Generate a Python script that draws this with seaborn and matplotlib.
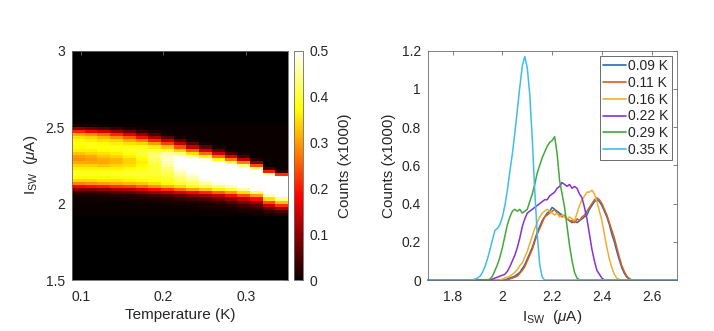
import numpy as np
import pandas as pd
import matplotlib
matplotlib.use("Agg")
import matplotlib.pyplot as plt
import seaborn as sns
from matplotlib.lines import Line2D

# ---------------- data ----------------
# Left panel: switching-current histogram map (counts x1000)
temperature_K = [0.097, 0.112, 0.128, 0.143, 0.159, 0.174, 0.189, 0.205, 0.220,
                 0.235, 0.251, 0.266, 0.282, 0.297, 0.312, 0.328, 0.343]
heat_isw_lo = 1.92      # lower edge of first current bin (uA)
heat_isw_step = 0.02    # bin width (uA)
# one list per temperature column, bins 1.93 ... 2.51 uA (centres)
heat_counts = [
    [0,0,0,0,0,0.005,0.01,0.03,0.09,0.18,0.28,0.34,0.37,0.39,0.38,0.36,0.34,0.31,0.29,0.30,0.33,0.36,0.37,0.38,0.37,0.35,0.31,0.21,0.09,0.01],
    [0,0,0,0,0,0.005,0.01,0.03,0.09,0.19,0.29,0.34,0.37,0.39,0.38,0.36,0.34,0.31,0.30,0.31,0.34,0.36,0.38,0.38,0.36,0.34,0.29,0.18,0.07,0.01],
    [0,0,0,0,0,0.005,0.015,0.04,0.10,0.20,0.30,0.35,0.37,0.39,0.38,0.36,0.33,0.31,0.31,0.33,0.35,0.37,0.38,0.37,0.35,0.32,0.26,0.15,0.05,0],
    [0,0,0,0,0,0.005,0.02,0.05,0.12,0.22,0.31,0.35,0.38,0.39,0.38,0.36,0.34,0.32,0.32,0.34,0.36,0.38,0.38,0.36,0.34,0.29,0.21,0.11,0.03,0],
    [0,0,0,0,0,0.01,0.02,0.06,0.13,0.23,0.32,0.36,0.38,0.40,0.39,0.37,0.35,0.34,0.34,0.36,0.38,0.39,0.38,0.35,0.31,0.25,0.16,0.07,0.01,0],
    [0,0,0,0,0.005,0.01,0.03,0.08,0.16,0.26,0.33,0.37,0.39,0.40,0.39,0.38,0.37,0.36,0.37,0.39,0.40,0.40,0.38,0.34,0.28,0.19,0.10,0.03,0,0],
    [0,0,0,0,0.005,0.015,0.04,0.10,0.19,0.29,0.35,0.38,0.39,0.40,0.40,0.40,0.40,0.41,0.42,0.43,0.42,0.40,0.36,0.30,0.21,0.12,0.05,0.01,0,0],
    [0,0,0,0,0.01,0.02,0.05,0.12,0.22,0.32,0.37,0.39,0.40,0.41,0.42,0.43,0.45,0.46,0.47,0.47,0.45,0.40,0.33,0.23,0.14,0.06,0.01,0,0,0],
    [0,0,0,0.005,0.01,0.03,0.07,0.15,0.26,0.35,0.40,0.42,0.43,0.45,0.47,0.49,0.51,0.52,0.51,0.49,0.43,0.34,0.24,0.14,0.06,0.01,0,0,0,0],
    [0,0,0,0.005,0.015,0.04,0.09,0.18,0.30,0.38,0.42,0.44,0.46,0.48,0.51,0.54,0.56,0.56,0.52,0.45,0.35,0.25,0.14,0.06,0.01,0,0,0,0,0],
    [0,0,0.005,0.01,0.02,0.05,0.11,0.21,0.33,0.41,0.45,0.48,0.51,0.55,0.59,0.61,0.61,0.56,0.48,0.37,0.26,0.15,0.06,0.01,0,0,0,0,0,0],
    [0,0,0.005,0.015,0.03,0.07,0.14,0.25,0.36,0.44,0.48,0.52,0.57,0.62,0.66,0.66,0.60,0.50,0.38,0.26,0.15,0.06,0.01,0,0,0,0,0,0,0],
    [0,0.005,0.01,0.02,0.05,0.10,0.19,0.30,0.40,0.47,0.52,0.58,0.64,0.70,0.72,0.66,0.55,0.41,0.27,0.15,0.05,0.01,0,0,0,0,0,0,0,0],
    [0,0.01,0.02,0.04,0.08,0.14,0.24,0.35,0.45,0.52,0.59,0.66,0.73,0.78,0.74,0.60,0.44,0.28,0.14,0.04,0.01,0,0,0,0,0,0,0,0,0],
    [0.005,0.01,0.03,0.06,0.11,0.19,0.30,0.42,0.53,0.62,0.71,0.79,0.84,0.78,0.62,0.42,0.24,0.09,0.02,0,0,0,0,0,0,0,0,0,0,0],
    [0.01,0.03,0.07,0.14,0.24,0.35,0.47,0.62,0.78,0.90,0.94,0.88,0.70,0.46,0.20,0.04,0,0,0,0,0,0,0,0,0,0,0,0,0,0],
    [0.02,0.05,0.12,0.22,0.33,0.44,0.56,0.75,0.95,1.05,1.02,0.84,0.58,0.22,0.03,0,0,0,0,0,0,0,0,0,0,0,0,0,0,0],
]

# Right panel: histograms, sampled every 0.01 uA from 1.88 to 2.54 uA
curve_isw_start = 1.88
curve_isw_step = 0.01
curve_labels = ["0.09 K", "0.11 K", "0.16 K", "0.22 K", "0.29 K", "0.35 K"]
counts_009 = [0,0,0,0,0,0,0,0,0,0,
              0,0,0,0,0.005,0.01,0.015,0.02,0.03,0.04,
              0.06,0.08,0.11,0.14,0.17,0.21,0.25,0.28,0.31,0.33,
              0.35,0.36,0.38,0.37,0.36,0.35,0.34,0.33,0.32,0.31,
              0.30,0.31,0.30,0.31,0.32,0.33,0.34,0.37,0.39,0.41,
              0.42,0.41,0.39,0.36,0.33,0.29,0.24,0.20,0.15,0.105,
              0.065,0.035,0.015,0.005,0,0,0]
counts_011 = [0,0,0,0,0,0,0,0,0,0,
              0,0,0,0,0,0.005,0.01,0.015,0.02,0.035,
              0.05,0.07,0.10,0.13,0.16,0.20,0.24,0.27,0.30,0.33,
              0.34,0.35,0.36,0.37,0.35,0.34,0.33,0.34,0.32,0.31,
              0.31,0.30,0.32,0.31,0.33,0.34,0.36,0.38,0.40,0.42,
              0.43,0.42,0.40,0.37,0.34,0.30,0.26,0.22,0.17,0.12,
              0.075,0.045,0.02,0.008,0,0,0]
counts_016 = [0,0,0,0,0,0,0,0,0,0,
              0,0,0.005,0.01,0.015,0.02,0.03,0.04,0.055,0.075,
              0.09,0.12,0.15,0.19,0.23,0.27,0.30,0.33,0.35,0.36,
              0.37,0.36,0.35,0.34,0.35,0.33,0.34,0.33,0.32,0.33,
              0.32,0.31,0.35,0.39,0.42,0.44,0.46,0.46,0.47,0.45,
              0.41,0.36,0.31,0.24,0.17,0.11,0.065,0.03,0.01,0.003,
              0,0,0,0,0,0,0]
counts_022 = [0,0,0,0,0,0,0,0,0.005,0.01,
              0.015,0.02,0.025,0.03,0.045,0.07,0.10,0.13,0.17,0.22,
              0.28,0.32,0.35,0.36,0.37,0.38,0.39,0.40,0.41,0.42,
              0.42,0.44,0.45,0.46,0.48,0.49,0.51,0.50,0.49,0.50,
              0.48,0.49,0.48,0.45,0.43,0.38,0.32,0.24,0.16,0.10,
              0.05,0.03,0.01,0,0,0,0,0,0,0,
              0,0,0,0,0,0,0]
counts_029 = [0,0,0,0,0,0,0,0.005,0.02,0.05,
              0.08,0.12,0.17,0.23,0.29,0.33,0.36,0.37,0.36,0.37,
              0.35,0.36,0.37,0.41,0.45,0.50,0.56,0.60,0.64,0.67,
              0.70,0.72,0.73,0.75,0.66,0.52,0.45,0.38,0.28,0.18,
              0.10,0.04,0.01,0,0,0,0,0,0,0,
              0,0,0,0,0,0,0,0,0,0,
              0,0,0,0,0,0,0]
counts_035 = [0,0.005,0.01,0.02,0.04,0.07,0.11,0.16,0.21,0.26,
              0.27,0.29,0.33,0.39,0.47,0.57,0.66,0.77,0.89,1.01,
              1.12,1.17,1.11,0.97,0.74,0.47,0.24,0.08,0.015,0,
              0,0,0,0,0,0,0,0,0,0,
              0,0,0,0,0,0,0,0,0,0,
              0,0,0,0,0,0,0,0,0,0,
              0,0,0,0,0,0,0]
curve_counts = [counts_009, counts_011, counts_016, counts_022, counts_029, counts_035]
curve_colors = ["#1f6fb4", "#dc5a1c", "#eeb02c", "#8a2fd6", "#43a83a", "#3fbdec"]

# ---------------- style ----------------
sns.set_style("white")
plt.rcParams["font.family"] = ["Liberation Sans", "DejaVu Sans"]
plt.rcParams["mathtext.fontset"] = "custom"
plt.rcParams["mathtext.rm"] = "Liberation Sans"
plt.rcParams["mathtext.it"] = "Liberation Sans:italic"
plt.rcParams["mathtext.bf"] = "Liberation Sans:bold"

TXT = "#262626"
AXC = "#6a6a6a"
TICK_FS = 10
LAB_FS = 11

W, H = 714, 331
fig = plt.figure(figsize=(W / 100, H / 100), dpi=100)
bot, hgt = 51 / H, 229.3 / H
ax1 = fig.add_axes([72 / W, bot, 216 / W, hgt])
cax = fig.add_axes([294 / W, bot, 9 / W, hgt])
ax2 = fig.add_axes([427.8 / W, bot, 248.7 / W, hgt])

def style_axes(ax):
    for sp in ax.spines.values():
        sp.set_color(AXC)
        sp.set_linewidth(0.6)
        sp.set_visible(True)
    ax.tick_params(direction="in", length=3, width=0.6, color=AXC,
                   labelcolor=TXT, labelsize=TICK_FS, top=True, right=True,
                   pad=5)
    ax.tick_params(axis="x", pad=7)

# ---------------- left: heatmap ----------------
tc = np.array(temperature_K)
dt = np.diff(tc).mean()
t_edges = np.concatenate([[tc[0] - dt / 2], (tc[:-1] + tc[1:]) / 2, [tc[-1] + dt / 2]])
Z = np.array(heat_counts).T
i_edges = heat_isw_lo + heat_isw_step * np.arange(Z.shape[0] + 1)
ax1.set_facecolor("black")
mesh = ax1.pcolormesh(t_edges, i_edges, Z, cmap="hot", vmin=0, vmax=0.5,
                      shading="flat", edgecolors="none", antialiased=False)
ax1.set_xlim(t_edges[0], t_edges[-1])
ax1.set_ylim(1.5, 3)
ax1.set_xticks([0.1, 0.2, 0.3])
ax1.set_xticklabels(["0.1", "0.2", "0.3"])
ax1.set_yticks([1.5, 2, 2.5, 3])
ax1.set_yticklabels(["1.5", "2", "2.5", "3"])
style_axes(ax1)
ax1.set_xlabel("Temperature (K)", fontsize=LAB_FS, color=TXT, labelpad=3)
ax1.set_ylabel(r"I$_{\mathrm{SW}}$  ($\mu$A)", fontsize=LAB_FS, color=TXT, labelpad=4)

cb = fig.colorbar(mesh, cax=cax, ticks=[0, 0.1, 0.2, 0.3, 0.4, 0.5])
cb.ax.set_yticklabels(["0", "0.1", "0.2", "0.3", "0.4", "0.5"])
cb.outline.set_edgecolor(AXC)
cb.outline.set_linewidth(0.6)
cax.tick_params(direction="in", length=2, width=0.6, color=AXC,
                labelcolor=TXT, labelsize=TICK_FS, pad=5)
cb.set_label("Counts (x1000)", fontsize=LAB_FS, color=TXT, labelpad=6)

# ---------------- right: histograms ----------------
rows = []
for lab, vals in zip(curve_labels, curve_counts):
    xs = [1.70] + [curve_isw_start + curve_isw_step * k for k in range(len(vals))] + [2.70]
    ys = [0.0] + list(vals) + [0.0]
    for x, y in zip(xs, ys):
        rows.append({"isw": x, "counts": y, "T": lab})
df = pd.DataFrame(rows)
sns.lineplot(data=df, x="isw", y="counts", hue="T", hue_order=curve_labels,
             palette=curve_colors, estimator=None, linewidth=1.1, ax=ax2,
             legend=False)
for ln in ax2.lines:
    ln.set_clip_on(False)
ax2.set_xlim(1.7, 2.7)
ax2.set_ylim(0, 1.2)
ax2.set_xticks([1.8, 2.0, 2.2, 2.4, 2.6])
ax2.set_xticklabels(["1.8", "2", "2.2", "2.4", "2.6"])
ax2.set_yticks([0, 0.2, 0.4, 0.6, 0.8, 1.0, 1.2])
ax2.set_yticklabels(["0", "0.2", "0.4", "0.6", "0.8", "1", "1.2"])
style_axes(ax2)
ax2.set_xlabel(r"I$_{\mathrm{SW}}$  ($\mu$A)", fontsize=LAB_FS, color=TXT, labelpad=3)
ax2.set_ylabel("Counts (x1000)", fontsize=LAB_FS, color=TXT, labelpad=4)

handles = [Line2D([], [], color=c, lw=1.2) for c in curve_colors]
leg = ax2.legend(handles, curve_labels, loc="upper right", fontsize=TICK_FS,
                 frameon=True, fancybox=False, framealpha=1, edgecolor="#555555",
                 borderaxespad=0.35, borderpad=0.25, labelspacing=0.2,
                 handlelength=1.6, handletextpad=0.15)
leg.get_frame().set_linewidth(0.6)
for t in leg.get_texts():
    t.set_color(TXT)

fig.savefig("out.png", dpi=100)
